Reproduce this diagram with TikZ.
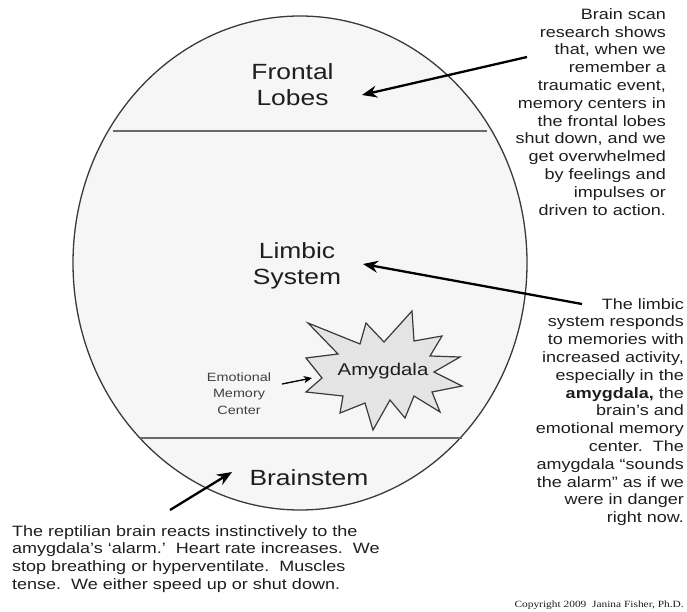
\documentclass[tikz,border=0pt]{standalone}
\usepackage{fontspec}
\usetikzlibrary{arrows.meta,shapes.geometric}
\newfontfamily\sansS{Liberation Sans}[FakeStretch=1.2]
\newfontfamily\serifS{Liberation Serif}[FakeStretch=1.2]
\definecolor{brainfill}{HTML}{F6F6F6}
\definecolor{starfill}{HTML}{E4E4E4}
\definecolor{outline}{HTML}{3A3A3A}
\definecolor{divider}{HTML}{6A6A6A}
\definecolor{txt}{HTML}{1E1E1E}
\begin{document}
\begin{tikzpicture}[x=1pt,y=-1pt,
  region/.style={font=\sansS\fontsize{22}{26}\selectfont, text=txt, inner sep=0pt, align=center},
  note/.style={font=\sansS\fontsize{15}{17.8}\selectfont, text=txt, inner sep=0pt},
  small/.style={font=\sansS\fontsize{12}{16.5}\selectfont, text=txt!85, inner sep=0pt, align=center},
  bigarrow/.style={line width=2.3pt, draw=black, -{Stealth[length=15pt,width=12pt,inset=5pt]}},
  smallarrow/.style={line width=1.3pt, draw=black, -{Stealth[length=8pt,width=7pt,inset=2pt]}},
  dividerline/.style={draw=divider, line width=2pt}]
\useasboundingbox (0,0) rectangle (687,612);
% brain outline
\node[draw=outline, line width=1.3pt, fill=brainfill, ellipse, minimum width=454pt, minimum height=494pt, inner sep=0pt] (brain) at (300,263) {};
\coordinate (d1l) at (113,131); \coordinate (d1r) at (487,131);
\coordinate (d2l) at (140,438); \coordinate (d2r) at (462,438);
\draw[dividerline] (d1l) -- (d1r);
\draw[dividerline] (d2l) -- (d2r);
% star
\draw[draw=outline, line width=1.2pt, fill=starfill, line join=miter]
 (308,323) -- (360,344) -- (366,323) -- (384,342) -- (412,311) -- (414,341)
 -- (442,336) -- (430,356) -- (460,357) -- (434,372) -- (462,386) -- (432,392)
 -- (440,412) -- (414,396) -- (405,418) -- (390,400) -- (373,430) -- (365,403)
 -- (340,413) -- (343,396) -- (306,392) -- (322,378) -- (306,358) -- (338,354) -- cycle;
% labels
\node[region, anchor=north] (frontal) at (292.5,63) {Frontal\\Lobes};
\node[region, anchor=north] (limbic) at (297,242) {Limbic\\System};
\node[region, anchor=base] (brainstem) at (309,485) {Brainstem};
\node[font=\sansS\fontsize{17}{20}\selectfont, text=txt, inner sep=0pt, anchor=base] (amyg) at (383,375) {Amygdala};
\node[small, anchor=north] (emc) at (239,372.5) {Emotional\\Memory\\Center};
% notes
\node[note, align=right, anchor=north east] (note1) at (666,8.3) {Brain scan\\research shows\\that, when we\\remember a\\traumatic event,\\memory centers in\\the frontal lobes\\shut down, and we\\get overwhelmed\\by feelings and\\impulses or\\driven to action.};
\node[note, align=right, anchor=north east] (note2) at (684,298) {The limbic\\system responds\\to memories with\\increased activity,\\especially in the\\\textbf{amygdala,} the\\brain’s and\\emotional memory\\center.\ \ The\\amygdala “sounds\\the alarm” as if we\\were in danger\\right now.};
\node[note, align=left, anchor=north west] (note3) at (12,525) {The reptilian brain reacts instinctively to the\\amygdala’s ‘alarm.’\ \ Heart rate increases.\ \ We\\stop breathing or hyperventilate.\ \ Muscles\\tense.\ \ We either speed up or shut down.};
\node[font=\serifS\fontsize{9.5}{11}\selectfont, text=txt, inner sep=0pt, anchor=base east] (copy) at (684,607) {Copyright 2009\ \ Janina Fisher, Ph.D.};
% arrows
\coordinate (t1) at (527,57); \coordinate (h1) at (362,95);
\coordinate (t2) at (582,304); \coordinate (h2) at (363,264);
\coordinate (t3) at (170,510); \coordinate (h3) at (232,472);
\coordinate (t4) at (282,384); \coordinate (h4) at (312,378);
\draw[bigarrow] (t1) -- (h1);
\draw[bigarrow] (t2) -- (h2);
\draw[bigarrow] (t3) -- (h3);
\draw[smallarrow] (t4) -- (h4);
\end{tikzpicture}
\end{document}
